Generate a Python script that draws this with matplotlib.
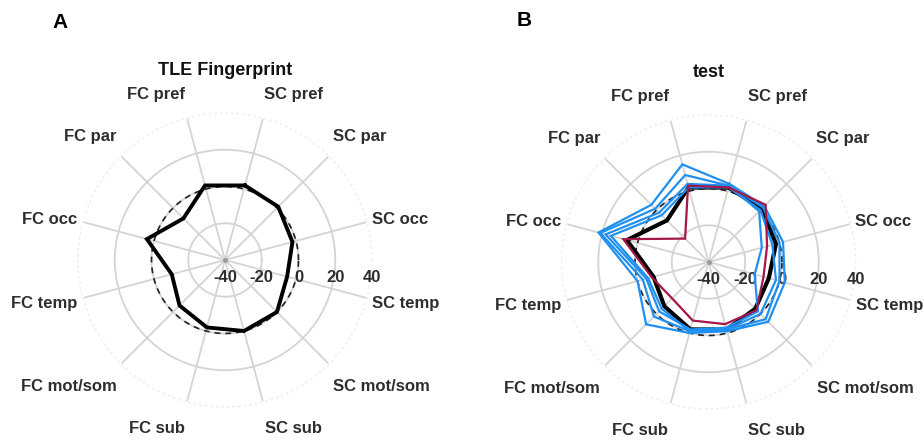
import numpy as np
import matplotlib
matplotlib.use("Agg")
import matplotlib.pyplot as plt

plt.rcParams["font.family"] = ["Liberation Sans", "DejaVu Sans"]

# Regions, listed clockwise starting from the upper-right spoke
categories = ["SC pref", "SC par", "SC occ", "SC temp", "SC mot/som", "SC sub",
              "FC sub", "FC mot/som", "FC temp", "FC occ", "FC par", "FC pref"]
radial_ticks = [-40, -20, 0, 20, 40]

# Panel A: group fingerprint
tle_fingerprint = [2, 1, -2, -5, 0, 0, -2, -5, -10, 4, -8, 2]

# Panel B: test set
test_fingerprint = [2, 1, -2, -6, -4, -2, -2, -6, -9, 6, -8, 2]
test_patient_1 = [4, 3, 2, 3, 6, -1, 0, 8, 0, 22, 4, 15]
test_patient_2 = [3, 2, 0, 0, 4, -2, -1, 2, -3, 21, 1, 9]
test_patient_3 = [3, -1, -10, -14, -2, -3, -2, -2, -5, 18, -2, 4]
test_patient_4 = [2, 0, -4, -2, 0, -2, -1, -4, -6, 15, -4, 2]
test_outlier = [2, 4, -7, -9, -3, -5, -7, -12, -8, 8, -22, 3]

TEXT = "#2e2e2e"
GRID = "#d4d4d4"
BLUE = "#1f8ff0"
MAROON = "#a3174b"

R_MIN, R_MAX = -40, 40
PX_PER_UNIT = 147 / 80.0

n = len(categories)
spoke_deg = np.array([75 - 30 * i for i in range(n)], dtype=float)
spoke = np.deg2rad(spoke_deg)

# label placement (angle in degrees, distance from centre in pixels)
label_deg = [67.5, 42.6, 13.0, -13.6, -39.0, -68.0,
             248.0, 219.0, 193.6, 167.0, 137.4, 112.5]
label_px = [179.5, 183, 179.5, 186, 201.5, 181.6,
            181.6, 201.5, 186, 179.5, 183, 179.5]


def closed(vals):
    v = list(vals)
    return np.append(spoke, spoke[0]), np.array(v + v[:1], dtype=float)


def draw_frame(ax, title):
    ax.set_ylim(R_MIN, R_MAX)
    ax.set_axis_off()
    t = np.linspace(0, 2 * np.pi, 400)
    for r in radial_ticks[1:-1]:
        ax.plot(t, np.full_like(t, r), color=GRID, lw=1.3, zorder=1)
    ax.plot(t, np.full_like(t, R_MAX), color="#eeeeee", lw=1.0,
            ls=(0, (2, 2)), zorder=1, clip_on=False)
    for a in spoke:
        ax.plot([a, a], [R_MIN, R_MAX - 1], color=GRID, lw=1.3, zorder=1)
    ax.plot([0], [R_MIN], "o", ms=2.5, color="#9a9a9a", zorder=1)
    # reference circle at zero
    ax.plot(t, np.zeros_like(t), color="#222222", lw=1.2,
            ls=(0, (3.5, 3)), zorder=2)
    for v in radial_ticks:
        ax.annotate(str(v), xy=(0, v), xytext=(0, -17),
                    textcoords="offset pixels", ha="center", va="center",
                    fontsize=12, fontweight="bold", color=TEXT, zorder=1.5,
                    annotation_clip=False)
    for name, d, px in zip(categories, label_deg, label_px):
        ax.text(np.deg2rad(d), R_MIN + px / PX_PER_UNIT, name,
                ha="center", va="center", fontsize=12, fontweight="bold",
                color=TEXT, clip_on=False)
    ax.text(0.5, 1.146, title, transform=ax.transAxes, ha="center",
            va="center", fontsize=13, fontweight="bold", color="#111111")


fig = plt.figure(figsize=(9.24, 4.41), dpi=100)
W, H = 924, 441
size = 2 * 147

axA = fig.add_axes([(225 - 147) / W, (H - 260 - 147) / H, size / W, size / H],
                   projection="polar")
draw_frame(axA, "TLE Fingerprint")
axA.plot(*closed(tle_fingerprint), color="black", lw=2.8, zorder=4,
         solid_joinstyle="miter")

axB = fig.add_axes([(708.5 - 147) / W, (H - 262 - 147) / H, size / W, size / H],
                   projection="polar")
draw_frame(axB, "test")
axB.plot(*closed(test_fingerprint), color="black", lw=3.0, zorder=3,
         solid_joinstyle="miter")
for vals in (test_patient_1, test_patient_2, test_patient_3, test_patient_4):
    axB.plot(*closed(vals), color=BLUE, lw=1.6, zorder=4,
             solid_joinstyle="miter")
axB.plot(*closed(test_outlier), color=MAROON, lw=1.6, zorder=5,
         solid_joinstyle="miter")

fig.text(60 / W, 1 - 22 / H, "A", ha="center", va="center", fontsize=15,
         fontweight="bold", color="black")
fig.text(524 / W, 1 - 21 / H, "B", ha="center", va="center", fontsize=15,
         fontweight="bold", color="black")

fig.savefig("out.png", dpi=100)
